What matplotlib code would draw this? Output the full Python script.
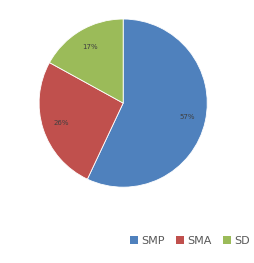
import matplotlib
matplotlib.use("Agg")
import matplotlib.pyplot as plt
from matplotlib.patches import Patch

categories = ["SMP", "SMA", "SD"]
values = [57, 26, 17]
colors = ["#4F81BD", "#C0504D", "#9BBB59"]

fig = plt.figure(figsize=(2.55, 2.63), dpi=100)
ax = fig.add_axes([0.150, 0.285, 0.666, 0.646])
wedges, texts, autotexts = ax.pie(values, colors=colors, startangle=90, counterclock=False,
                                  autopct="%d%%", pctdistance=0.78,
                                  wedgeprops=dict(edgecolor="white", linewidth=0.6),
                                  textprops=dict(fontsize=5, color="#404040"))
ax.set_xlim(-1.01, 1.01)
ax.set_ylim(-1.01, 1.01)
ax.set_aspect("equal")

handles = [Patch(facecolor=c, edgecolor="none") for c in colors]
fig.legend(handles, categories, loc="center", bbox_to_anchor=(0.745, 0.083), ncol=3,
           frameon=False, fontsize=8, handlelength=0.7, handleheight=0.7,
           handletextpad=0.3, columnspacing=1.0, labelcolor="#595959")
fig.savefig("out.png", dpi=100)
